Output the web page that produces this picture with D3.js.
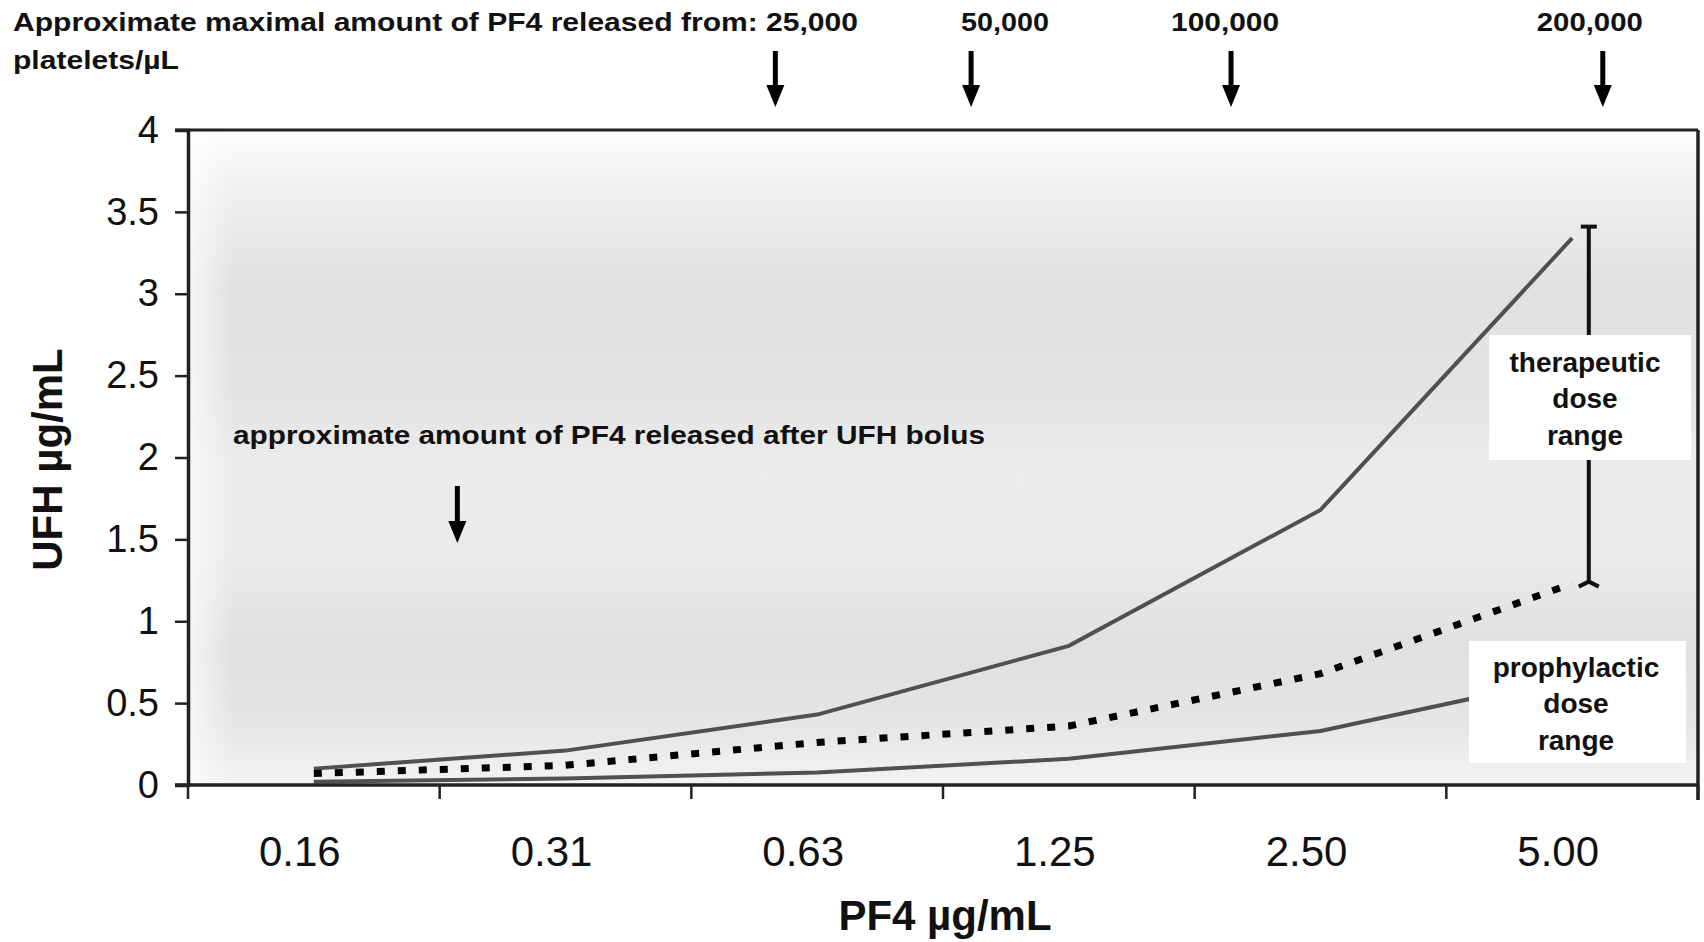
<!DOCTYPE html>
<html>
<head>
<meta charset="utf-8">
<script src="https://cdn.jsdelivr.net/npm/d3@7"></script>
<style>
  body { margin: 0; background: #fff; }
  text { font-family: "Liberation Sans", Arial, sans-serif; fill: #111; }
</style>
</head>
<body>
<svg id="chart"></svg>
<script>
// data
var categories = ["0.16", "0.31", "0.63", "1.25", "2.50", "5.00"];
var upperLine = [0.10, 0.21, 0.43, 0.85, 1.68, 3.34];
var dottedLine = [0.07, 0.12, 0.26, 0.36, 0.68, 1.23];
var lowerLine = [0.02, 0.04, 0.076, 0.16, 0.33, 0.66];
var yTicks = [0, 0.5, 1, 1.5, 2, 2.5, 3, 3.5, 4];

// platelet count annotations (arrow position in PF4 units)
var plateletLabels = ["25,000", "50,000", "100,000", "200,000"];
var plateletArrowAt = [0.557, 0.955, 1.954, 5.44];
var bolusArrowAt = 0.232;
var therapeuticRange = [1.23, 3.41];

var width = 1704, height = 942;
var margin = { top: 130, right: 6, bottom: 157, left: 188 };

var svg = d3.select('#chart').attr('width', width).attr('height', height);

var x = d3.scaleBand()
    .domain(categories)
    .range([margin.left, width - margin.right]);
var bw = x.bandwidth();
function cx(c) { return x(c) + bw / 2; }

var y = d3.scaleLinear()
    .domain([0, 4])
    .range([height - margin.bottom, margin.top]);

// log2 scale lined up with the category centres, for the annotation arrows
var xLog = d3.scaleLog().base(2)
    .domain([0.15625, 5])
    .range([cx(categories[0]), cx(categories[5])]);

// plot background gradient
var defs = svg.append('defs');
var grad = defs.append('linearGradient').attr('id', 'bg')
    .attr('x1', 0).attr('y1', 0).attr('x2', 0).attr('y2', 1);
[[0, '#fdfdfd'], [0.09, '#f0f0f0'], [0.24, '#e1e1e1'], [0.38, '#e3e3e3'],
 [0.53, '#ececec'], [0.66, '#eaeaea'], [0.8, '#e0e0e0'], [0.91, '#e6e6e6'], [1, '#f3f3f3']]
    .forEach(function (s) {
        grad.append('stop').attr('offset', s[0]).attr('stop-color', s[1]);
    });
var gradL = defs.append('linearGradient').attr('id', 'bgL')
    .attr('x1', 0).attr('y1', 0).attr('x2', 1).attr('y2', 0);
gradL.append('stop').attr('offset', 0).attr('stop-color', '#fff').attr('stop-opacity', 0.7);
gradL.append('stop').attr('offset', 0.03).attr('stop-color', '#fff').attr('stop-opacity', 0);

var plotW = width - margin.right - margin.left;
var plotH = height - margin.bottom - margin.top;
svg.append('rect')
    .attr('x', margin.left).attr('y', margin.top)
    .attr('width', plotW).attr('height', plotH)
    .attr('fill', 'url(#bg)');
svg.append('rect')
    .attr('x', margin.left).attr('y', margin.top)
    .attr('width', plotW).attr('height', plotH)
    .attr('fill', 'url(#bgL)');

// lines
var line = d3.line()
    .x(function (d, i) { return cx(categories[i]); })
    .y(function (d) { return y(d); });

svg.append('path').datum(upperLine)
    .attr('d', line).attr('fill', 'none')
    .attr('stroke', '#505050').attr('stroke-width', 4);
svg.append('path').datum(lowerLine)
    .attr('d', line).attr('fill', 'none')
    .attr('stroke', '#505050').attr('stroke-width', 4);
svg.append('path').datum(dottedLine)
    .attr('d', line).attr('fill', 'none')
    .attr('stroke', '#000').attr('stroke-width', 7)
    .attr('stroke-dasharray', '8,13');

// therapeutic range bracket
var bx = xLog(5.44) - 14;
var boxT = { x0: 1489, x1: 1691, y0: 335, y1: 460 };
svg.append('line')
    .attr('x1', bx).attr('x2', bx)
    .attr('y1', y(therapeuticRange[1])).attr('y2', y(therapeuticRange[0]))
    .attr('stroke', '#111').attr('stroke-width', 4);
svg.append('line')
    .attr('x1', bx - 8).attr('x2', bx + 8)
    .attr('y1', y(therapeuticRange[1])).attr('y2', y(therapeuticRange[1]))
    .attr('stroke', '#111').attr('stroke-width', 4);
svg.append('path')
    .attr('d', 'M' + (bx - 10) + ',' + (y(therapeuticRange[0]) + 3) + 'L' + bx + ',' + (y(therapeuticRange[0]) - 2) +
        'L' + (bx + 10) + ',' + (y(therapeuticRange[0]) + 3))
    .attr('fill', 'none').attr('stroke', '#111').attr('stroke-width', 4);

// white label boxes
function labelBox(b, lines, cxText, ys) {
    svg.append('rect')
        .attr('x', b.x0).attr('y', b.y0)
        .attr('width', b.x1 - b.x0).attr('height', b.y1 - b.y0)
        .attr('fill', '#fff');
    lines.forEach(function (t, i) {
        svg.append('text')
            .attr('x', cxText).attr('y', ys[i])
            .attr('text-anchor', 'middle')
            .attr('font-size', 28).attr('font-weight', 'bold')
            .text(t);
    });
}
labelBox(boxT, ['therapeutic', 'dose', 'range'], 1585, [372, 408, 445]);
labelBox({ x0: 1469, x1: 1686, y0: 641, y1: 763 }, ['prophylactic', 'dose', 'range'], 1576, [677, 713, 750]);

// axes
var yAxis = d3.axisLeft(y)
    .tickValues(yTicks)
    .tickSize(13)
    .tickPadding(16)
    .tickFormat(function (d) { return String(d); });
var gy = svg.append('g')
    .attr('transform', 'translate(' + margin.left + ',0)')
    .call(yAxis);
gy.select('.domain').attr('stroke', '#222').attr('stroke-width', 3.5);
gy.selectAll('.tick line').attr('stroke', '#222').attr('stroke-width', 2.5);
gy.selectAll('.tick text')
    .attr('font-size', 38).attr('fill', '#222')
    .style('font-family', '"Liberation Sans", Arial, sans-serif');

// x axis: ticks between categories
var edges = categories.map(function (c) { return x(c); }).concat([width - margin.right]);
var gx = svg.append('g');
gx.append('line')
    .attr('x1', margin.left - 13).attr('x2', width - margin.right)
    .attr('y1', y(0)).attr('y2', y(0))
    .attr('stroke', '#222').attr('stroke-width', 3.5);
gx.selectAll('.xtick').data(edges).enter().append('line')
    .attr('x1', function (d) { return d; }).attr('x2', function (d) { return d; })
    .attr('y1', y(0)).attr('y2', y(0) + 14)
    .attr('stroke', '#222').attr('stroke-width', 2.5);
gx.selectAll('.xlab').data(categories).enter().append('text')
    .attr('x', function (d) { return cx(d) - 14; })
    .attr('y', y(0) + 81)
    .attr('text-anchor', 'middle')
    .attr('font-size', 42).attr('fill', '#222')
    .text(function (d) { return d; });

// plot frame (top and right)
svg.append('line')
    .attr('x1', margin.left - 13).attr('x2', width - margin.right)
    .attr('y1', margin.top).attr('y2', margin.top)
    .attr('stroke', '#222').attr('stroke-width', 3);
svg.append('line')
    .attr('x1', width - margin.right).attr('x2', width - margin.right)
    .attr('y1', margin.top).attr('y2', y(0) + 15)
    .attr('stroke', '#222').attr('stroke-width', 3.5);

// axis titles
svg.append('text')
    .attr('transform', 'translate(62,' + (margin.top + plotH / 2 + 2) + ') rotate(-90)')
    .attr('text-anchor', 'middle')
    .attr('font-size', 42).attr('font-weight', 'bold')
    .text('UFH \u00b5g/mL');
svg.append('text')
    .attr('x', 945).attr('y', 930)
    .attr('text-anchor', 'middle')
    .attr('font-size', 42).attr('font-weight', 'bold')
    .text('PF4 \u00b5g/mL');

// arrows
function arrow(xp, y0, y1) {
    svg.append('line')
        .attr('x1', xp).attr('x2', xp).attr('y1', y0).attr('y2', y1 - 16)
        .attr('stroke', '#000').attr('stroke-width', 5);
    svg.append('path')
        .attr('d', 'M' + (xp - 9) + ',' + (y1 - 22) + 'L' + (xp + 9) + ',' + (y1 - 22) + 'L' + xp + ',' + y1 + 'Z')
        .attr('fill', '#000');
}
plateletArrowAt.forEach(function (v) { arrow(xLog(v), 51, 107); });
arrow(xLog(bolusArrowAt), 486, 543);

// top annotation
svg.append('text')
    .attr('x', 13).attr('y', 31)
    .attr('font-size', 25).attr('font-weight', 'bold')
    .attr('textLength', 845).attr('lengthAdjust', 'spacingAndGlyphs')
    .text('Approximate maximal amount of  PF4 released from: ' + plateletLabels[0]);
svg.append('text')
    .attr('x', 13).attr('y', 69)
    .attr('font-size', 25).attr('font-weight', 'bold')
    .attr('textLength', 166).attr('lengthAdjust', 'spacingAndGlyphs')
    .text('platelets/\u00b5L');
var labelDx = [0, 34, -6, -13];
var labelLen = [0, 88, 108, 106];
plateletLabels.slice(1).forEach(function (t, i) {
    var k = i + 1;
    var xp = xLog(plateletArrowAt[k]) + labelDx[k];
    svg.append('text')
        .attr('x', xp - labelLen[k] / 2).attr('y', 31)
        .attr('font-size', 25).attr('font-weight', 'bold')
        .attr('textLength', labelLen[k]).attr('lengthAdjust', 'spacingAndGlyphs')
        .text(t);
});

svg.append('text')
    .attr('x', 233).attr('y', 444)
    .attr('font-size', 25).attr('font-weight', 'bold')
    .attr('textLength', 752).attr('lengthAdjust', 'spacingAndGlyphs')
    .text('approximate amount of PF4 released after UFH bolus');
</script>
</body>
</html>
